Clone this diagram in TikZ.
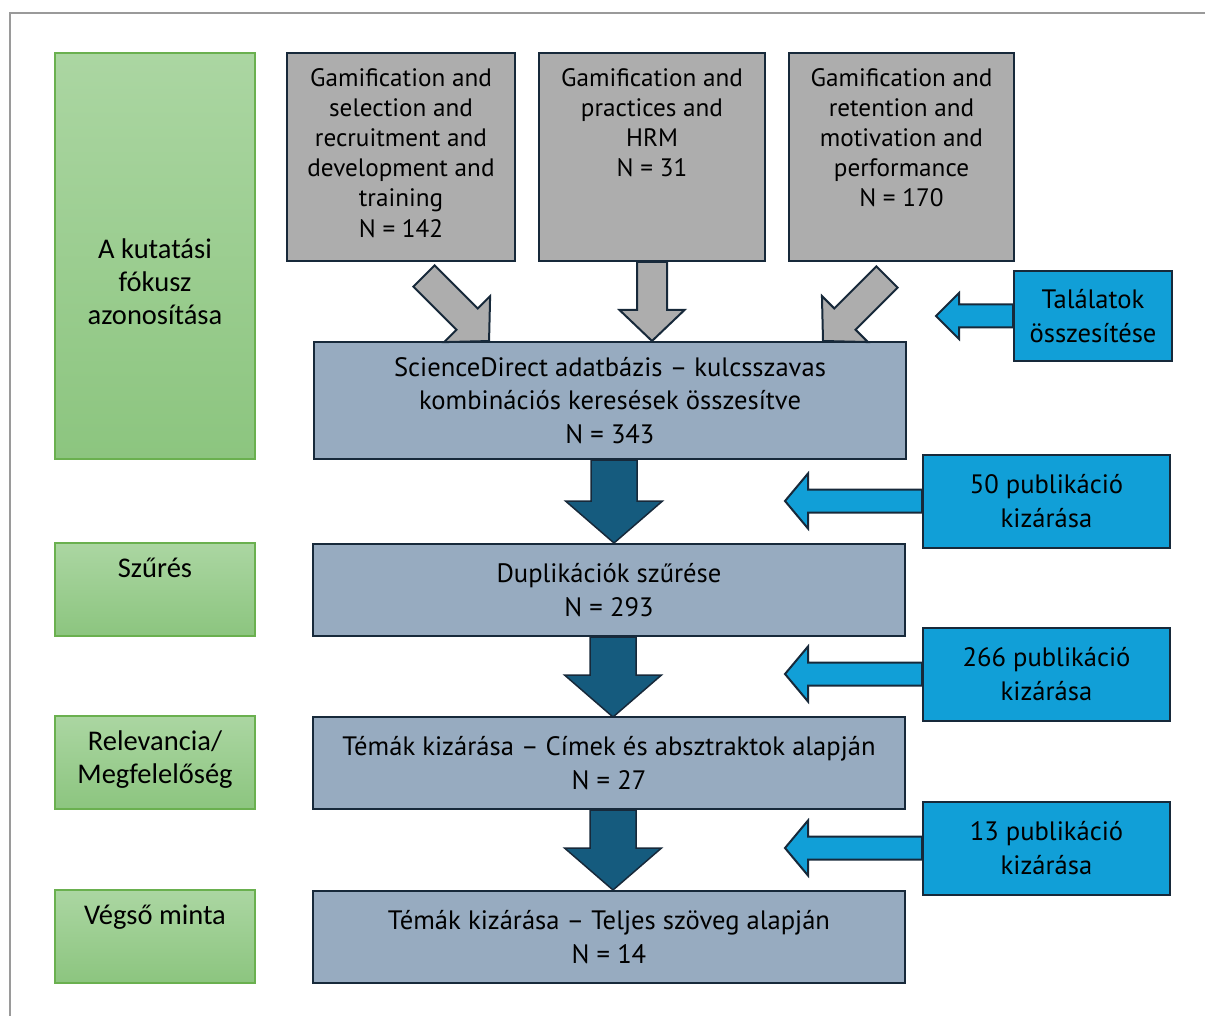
\documentclass[tikz,border=0pt]{standalone}
\usepackage{fontspec}
\setmainfont{PT Sans}
\newfontfamily\sidefont{Carlito}
\usetikzlibrary{calc,positioning}

\definecolor{greentop}{HTML}{ABD6A2}
\definecolor{greenbot}{HTML}{8CC57F}
\definecolor{greenline}{HTML}{6AB04F}
\definecolor{grayfill}{HTML}{ADADAD}
\definecolor{navyline}{HTML}{17293A}
\definecolor{stepfill}{HTML}{97ABC0}
\definecolor{darkarrow}{HTML}{155B7E}
\definecolor{cyanfill}{HTML}{119FD7}
\definecolor{framegray}{HTML}{9A9A9A}

\newcommand*{\boxfont}{\fontsize{26.6}{33.5}\selectfont\color{black}}
\newcommand*{\topfont}{\fontsize{25.2}{30.2}\selectfont\color{black}}
\newcommand*{\greenfont}{\sidefont\fontsize{28.5}{33}\selectfont\color{black}}
\newcommand{\blockarrow}[7]{%
% options, start, angle, length, shaft half width, head half width, head length
  \pgfmathsetmacro{\alen}{#4}
  \pgfmathsetmacro{\ashaft}{#5}
  \pgfmathsetmacro{\ahead}{#6}
  \pgfmathsetmacro{\abase}{#4-#7}
  \begin{scope}[shift={#2}, rotate=#3]
    \filldraw[#1] (0,-\ashaft) -- (\abase,-\ashaft) -- (\abase,-\ahead) -- (\alen,0)
      -- (\abase,\ahead) -- (\abase,\ashaft) -- (0,\ashaft) -- cycle;
  \end{scope}
}

\begin{document}
\begin{tikzpicture}[x=1pt, y=-1pt,
  greenbox/.style={draw=greenline, line width=1.2pt, top color=greentop,
    bottom color=greenbot, minimum width=200pt, minimum height=93pt},
  topbox/.style={draw=navyline, line width=2pt, fill=grayfill, minimum height=208pt},
  stepbox/.style={draw=navyline, line width=2pt, fill=stepfill, minimum width=592pt,
    minimum height=92pt, align=center, font=\boxfont},
  notebox/.style={draw=navyline, line width=2pt, fill=cyanfill, minimum height=93pt,
    align=center, font=\boxfont},
  toptxt/.style={align=center, font=\topfont, inner sep=0pt},
  greentxt/.style={align=center, font=\greenfont, inner sep=0pt},
  grayarrow/.style={fill=grayfill, draw=navyline, line width=2pt, line join=miter},
  darkarrowstyle/.style={fill=darkarrow, draw=navyline, line width=1.5pt},
  cyanarrow/.style={fill=cyanfill, draw=navyline, line width=2pt}]
  \useasboundingbox (0,0) rectangle (1205,1016);
  \draw[framegray, line width=2pt] (10,1016) -- (10,13) -- (1205,13);

  % left column
  \node[greenbox, minimum height=406pt] (g1) at (155,256) {};
  \node[greenbox] (g2) at (155,589.5) {};
  \node[greenbox] (g3) at (155,762.5) {};
  \node[greenbox] (g4) at (155,936.5) {};
  \node[greentxt] at ($(g1)+(0,26)$) {A kutatási\\fókusz\\azonosítása};
  \node[greentxt, below=15pt of g2.north] {Szűrés};
  \node[greentxt, below=15pt of g3.north] {Relevancia/\\Megfelelőség};
  \node[greentxt, below=15pt of g4.north] {Végső minta};

  % keyword searches
  \node[topbox, minimum width=228pt] (ga) at (401,157) {};
  \node[topbox, minimum width=226pt] (gb) at (652,157) {};
  \node[topbox, minimum width=225pt] (gc) at (901.5,157) {};
  \node[toptxt, below=16pt of ga.north] {Gamification and\\selection and\\recruitment and\\development and\\training\\N = 142};
  \node[toptxt, below=16pt of gb.north] {Gamification and\\practices and\\HRM\\N = 31};
  \node[toptxt, below=16pt of gc.north] {Gamification and\\retention and\\motivation and\\performance\\N = 170};

  % main flow
  \node[stepbox, minimum height=117pt] (sd) at (610,400.5) {ScienceDirect adatbázis – kulcsszavas\\kombinációs keresések összesítve\\N = 343};
  \node[stepbox] (dup) at (609,590) {Duplikációk szűrése\\N = 293};
  \node[stepbox] (rel) at (609,763) {Témák kizárása – Címek és absztraktok alapján\\N = 27};
  \node[stepbox] (fin) at (609,937) {Témák kizárása – Teljes szöveg alapján\\N = 14};
  \node[notebox, minimum width=158pt, minimum height=90pt] (sum) at (1093,316) {Találatok\\összesítése};

  \blockarrow{grayarrow}{($(ga.south)+(23,14)$)}{-45}{92}{15}{32.5}{31}
  \blockarrow{grayarrow}{(gb.south)}{-90}{79}{15}{32.5}{31}
  \blockarrow{grayarrow}{($(gc.south)+(-14.5,15)$)}{-135}{90.5}{15}{32.5}{31}
  \blockarrow{cyanarrow}{(sum.west)}{180}{77}{11.5}{23}{23}

  \foreach \a/\len in {sd/83,dup/80,rel/80} {
    \blockarrow{darkarrowstyle}{($(\a.south)+(4,0)$)}{-90}{\len}{23}{48.5}{42}
  }
  \foreach \b/\y/\num in {ex1/501/50,ex2/674/266,ex3/848/13} {
    \node[notebox, minimum width=247pt] (\b) at (1046.5,\y) {\num{} publikáció\\kizárása};
    \blockarrow{cyanarrow}{(\b.west)}{180}{137}{11.5}{27.5}{23}
  }
\end{tikzpicture}
\end{document}
